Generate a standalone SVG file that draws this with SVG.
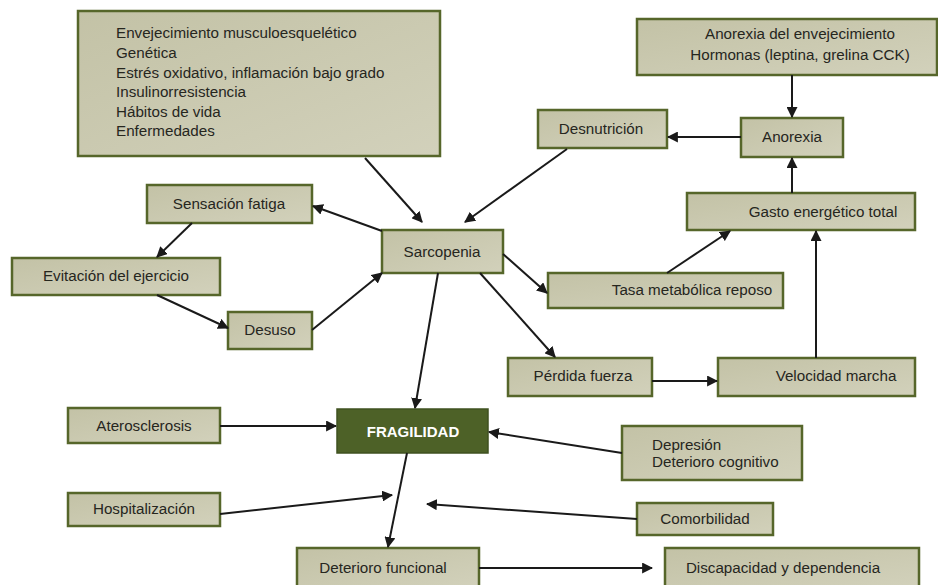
<svg xmlns="http://www.w3.org/2000/svg" width="938" height="585" viewBox="0 0 938 585">
<defs>
<marker id="ah" viewBox="0 0 10 10" refX="9" refY="5" markerWidth="5.5" markerHeight="5.5" orient="auto" markerUnits="strokeWidth">
<path d="M0,0 L10,5 L0,10 z" fill="#1a1a1a"/>
</marker>
<linearGradient id="g" x1="0" y1="0" x2="1" y2="1">
<stop offset="0" stop-color="#c3c2a6"/>
<stop offset="1" stop-color="#d2d1bb"/>
</linearGradient>
</defs>
<style>
.b{fill:url(#g);stroke:#56662a;stroke-width:2.5}
.t{font-family:"Liberation Sans",Arial,sans-serif;font-size:15.2px;fill:#26261e}
.c{text-anchor:middle}
.e{stroke:#1a1a1a;stroke-width:2;fill:none;marker-end:url(#ah)}
</style>
<rect width="938" height="585" fill="#ffffff"/>
<g id="causas">
<rect class="b" x="78" y="11" width="362" height="145"/>
<text class="t" x="116" y="38">Envejecimiento musculoesquelético</text>
<text class="t" x="116" y="58">Genética</text>
<text class="t" x="116" y="78">Estrés oxidativo, inflamación bajo grado</text>
<text class="t" x="116" y="97">Insulinorresistencia</text>
<text class="t" x="116" y="117">Hábitos de vida</text>
<text class="t" x="116" y="136">Enfermedades</text>
</g>
<g id="hormonas">
<rect class="b" x="637" y="19" width="300" height="56"/>
<text class="t c" x="800" y="39">Anorexia del envejecimiento</text>
<text class="t c" x="800" y="60">Hormonas (leptina, grelina CCK)</text>
</g>
<g id="anorexia">
<rect class="b" x="741" y="118" width="102" height="39"/>
<text class="t c" x="792" y="142">Anorexia</text>
</g>
<g id="desnutricion">
<rect class="b" x="538" y="110" width="129" height="38"/>
<text class="t c" x="601" y="134">Desnutrición</text>
</g>
<g id="gasto">
<rect class="b" x="687" y="193" width="228" height="37"/>
<text class="t c" x="823" y="217">Gasto energético total</text>
</g>
<g id="fatiga">
<rect class="b" x="147" y="185" width="165" height="38"/>
<text class="t c" x="229" y="209">Sensación fatiga</text>
</g>
<g id="evitacion">
<rect class="b" x="12" y="258" width="208" height="37"/>
<text class="t c" x="116" y="281">Evitación del ejercicio</text>
</g>
<g id="desuso">
<rect class="b" x="228" y="312" width="84" height="37"/>
<text class="t c" x="270" y="335">Desuso</text>
</g>
<g id="sarcopenia">
<rect class="b" x="382" y="230" width="121" height="43"/>
<text class="t c" x="442" y="257">Sarcopenia</text>
</g>
<g id="tasa">
<rect class="b" x="548" y="273" width="235" height="35"/>
<text class="t c" x="692" y="295">Tasa metabólica reposo</text>
</g>
<g id="perdida">
<rect class="b" x="508" y="358" width="144" height="38"/>
<text class="t c" x="583" y="381">Pérdida fuerza</text>
</g>
<g id="velocidad">
<rect class="b" x="718" y="358" width="197" height="38"/>
<text class="t c" x="836" y="381">Velocidad marcha</text>
</g>
<g id="fragilidad">
<rect x="337" y="409" width="151" height="44" fill="#4d6127" stroke="#3f5120" stroke-width="1.5"/>
<text x="413" y="437" text-anchor="middle" font-family="'Liberation Sans',Arial,sans-serif" font-size="15" font-weight="bold" fill="#ffffff">FRAGILIDAD</text>
</g>
<g id="aterosclerosis">
<rect class="b" x="68" y="408" width="152" height="35"/>
<text class="t c" x="144" y="431">Aterosclerosis</text>
</g>
<g id="hospitalizacion">
<rect class="b" x="68" y="493" width="152" height="33"/>
<text class="t c" x="144" y="514">Hospitalización</text>
</g>
<g id="depresion">
<rect class="b" x="622" y="426" width="180" height="54"/>
<text class="t" x="652" y="450">Depresión</text>
<text class="t" x="652" y="467">Deterioro cognitivo</text>
</g>
<g id="comorbilidad">
<rect class="b" x="637" y="503" width="136" height="32"/>
<text class="t c" x="705" y="524">Comorbilidad</text>
</g>
<g id="deterioro">
<rect class="b" x="297" y="548" width="182" height="40"/>
<text class="t c" x="383" y="573">Deterioro funcional</text>
</g>
<g id="discapacidad">
<rect class="b" x="665" y="548" width="254" height="40"/>
<text class="t c" x="783" y="573">Discapacidad y dependencia</text>
</g>
<g id="connectors">
<line class="e" x1="792" y1="75" x2="792" y2="117"/>
<line class="e" x1="741" y1="137" x2="668" y2="137"/>
<line class="e" x1="792" y1="193" x2="792" y2="158"/>
<line class="e" x1="365" y1="158" x2="422" y2="222"/>
<line class="e" x1="567" y1="149" x2="465" y2="222"/>
<line class="e" x1="382" y1="231" x2="313" y2="206"/>
<line class="e" x1="192" y1="223" x2="157" y2="257"/>
<line class="e" x1="157" y1="295" x2="228" y2="328"/>
<line class="e" x1="312" y1="330" x2="382" y2="273"/>
<line class="e" x1="438" y1="273" x2="415" y2="408"/>
<line class="e" x1="503" y1="254" x2="547" y2="293"/>
<line class="e" x1="480" y1="273" x2="555" y2="357"/>
<line class="e" x1="667" y1="273" x2="730" y2="231"/>
<line class="e" x1="652" y1="381" x2="717" y2="381"/>
<line class="e" x1="816" y1="358" x2="816" y2="231"/>
<line class="e" x1="220" y1="426" x2="336" y2="426"/>
<line class="e" x1="622" y1="453" x2="489" y2="432"/>
<line class="e" x1="220" y1="514" x2="392" y2="495"/>
<line class="e" x1="637" y1="519" x2="427" y2="504"/>
<line class="e" x1="407" y1="453" x2="388" y2="547"/>
<line class="e" x1="479" y1="568" x2="652" y2="568"/>
</g>
</svg>
